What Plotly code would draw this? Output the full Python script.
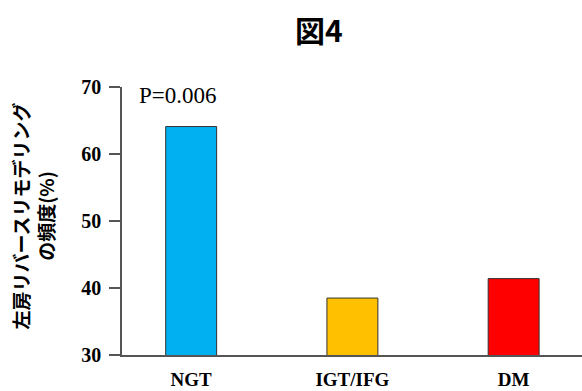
import plotly.graph_objects as go

categories = ["NGT", "IGT/IFG", "DM"]
values = [64.1, 38.5, 41.4]
colors = ["#00B0F0", "#FFC000", "#FF0000"]
y_ticks = [30, 40, 50, 60, 70]
title_text = "図4"
y_title = "左房リバースリモデリング<br>の頻度(%)"
p_text = "P=0.006"

# plot area in pixels
L, R, T, B = 122, 582, 86.5, 355.5
W, H = R - L, B - T

def px(x):
    return (x - L) / W

def py(y):
    return (B - y) / H

fig = go.Figure()
fig.add_trace(go.Bar(
    x=categories, y=values, width=0.316,
    marker=dict(color=colors, line=dict(color="#333333", width=1)),
))

fig.update_layout(
    width=582, height=391,
    margin=dict(l=L, r=582 - R, t=T, b=391 - B, pad=0, autoexpand=False),
    paper_bgcolor="white", plot_bgcolor="white",
    showlegend=False,
    xaxis=dict(
        range=[-0.429, 2.424], showline=True, linecolor="#555555", linewidth=1.5,
        ticks="", showgrid=False, zeroline=False, automargin=False,
        tickfont=dict(family="Liberation Serif", size=19, color="black", weight="bold"),
        ticklabelstandoff=6,
    ),
    yaxis=dict(
        range=[30, 70], tickvals=y_ticks, showline=True, linecolor="#555555", linewidth=1.5,
        ticks="outside", ticklen=11, tickcolor="#555555", tickwidth=1.5,
        showgrid=False, zeroline=False, automargin=False,
        tickfont=dict(family="Liberation Serif", size=20, color="black", weight="bold"),
        ticklabelstandoff=4,
    ),
    annotations=[
        dict(text="<b>" + title_text + "</b>", x=px(319), y=py(28), xref="paper", yref="paper",
             xanchor="center", yanchor="middle", showarrow=False,
             font=dict(family="Noto Sans CJK JP", size=30, color="black")),
        dict(text="<b>" + y_title + "</b>", x=px(33.5), y=py(216), xref="paper", yref="paper",
             xanchor="center", yanchor="middle", showarrow=False, textangle=-90,
             font=dict(family="Noto Sans CJK JP", size=19, color="black")),
        dict(text=p_text, x=px(137), y=py(95), xref="paper", yref="paper",
             xanchor="left", yanchor="middle",
             showarrow=False, font=dict(family="Liberation Serif", size=23, color="black")),
    ],
)

fig.write_html("out.html", config={"displayModeBar": False},
               post_script="document.body.style.margin='0';document.body.style.overflow='hidden';")
